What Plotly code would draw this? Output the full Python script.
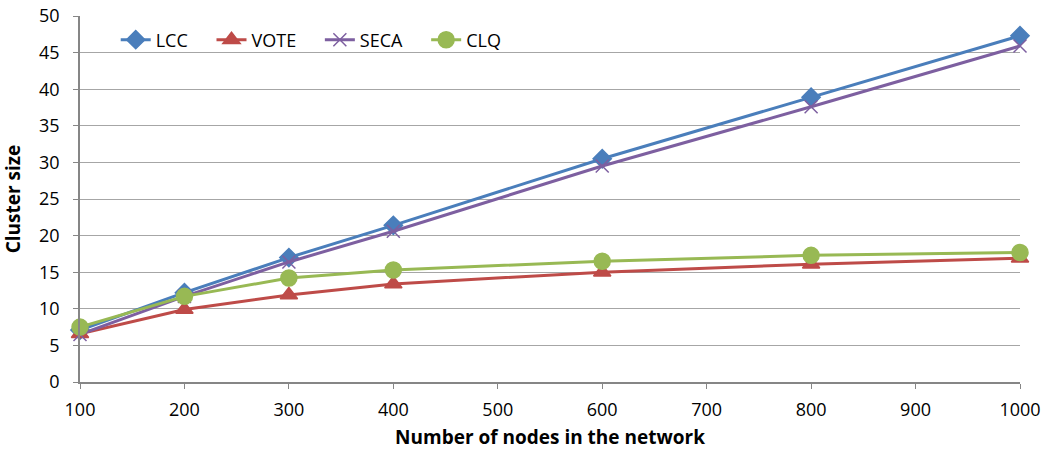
import plotly.graph_objects as go

nodes = [100, 200, 300, 400, 600, 800, 1000]
lcc = [7.1, 12.2, 17.0, 21.4, 30.5, 38.9, 47.3]
vote = [6.6, 9.9, 11.9, 13.4, 15.0, 16.1, 16.9]
seca = [6.5, 11.7, 16.4, 20.6, 29.5, 37.6, 45.9]
clq = [7.5, 11.7, 14.2, 15.3, 16.5, 17.3, 17.7]

x_ticks = [100, 200, 300, 400, 500, 600, 700, 800, 900, 1000]
y_ticks = [0, 5, 10, 15, 20, 25, 30, 35, 40, 45, 50]

FONT = "Open Sans, sans-serif"
PAD = "\u00a0" * 4

series = [
    ("LCC", lcc, "#4a7ebb", "diamond", 14),
    ("VOTE", vote, "#be4b48", "triangle-up", 15),
    ("SECA", seca, "#7d5fa0", "x-thin-open", 13),
    ("CLQ", clq, "#98b954", "circle", 16),
]

fig = go.Figure()
for name, vals, color, sym, size in series:
    fig.add_trace(go.Scatter(
        x=nodes, y=vals, name=name + PAD, mode="lines+markers",
        line=dict(color=color, width=3),
        marker=dict(symbol=sym, size=size, color=color,
                    line=dict(color=color, width=1.5)),
        cliponaxis=False,
    ))

fig.update_layout(
    width=1045, height=454,
    margin=dict(l=80, r=25, t=16, b=72),
    paper_bgcolor="white", plot_bgcolor="white",
    font=dict(family=FONT, size=18, color="black"),
    legend=dict(orientation="h", x=0.038, y=0.985, xanchor="left", yanchor="top",
                bgcolor="rgba(0,0,0,0)", font=dict(size=18),
                itemwidth=30, tracegroupgap=0),
    xaxis=dict(
        range=[100, 1000], tickvals=x_ticks, ticktext=[str(v) for v in x_ticks],
        showgrid=False, zeroline=False, showline=True, linecolor="#868686",
        linewidth=1.5, ticks="outside", ticklen=5, tickcolor="#868686",
        ticklabelstandoff=6, automargin=False,
        title=dict(text="<b>Number of nodes in the network</b>", font=dict(size=19), standoff=10),
    ),
    yaxis=dict(
        range=[0, 50], tickvals=y_ticks,
        showgrid=True, gridcolor="#a6a6a6", gridwidth=1, zeroline=False,
        showline=True, linecolor="#868686", linewidth=1.5,
        ticks="outside", ticklen=5, tickcolor="#868686",
        ticklabelstandoff=10, automargin=False,
        title=dict(text="<b>Cluster size</b>", font=dict(size=19), standoff=14),
    ),
)

fig.write_html("out.html")
